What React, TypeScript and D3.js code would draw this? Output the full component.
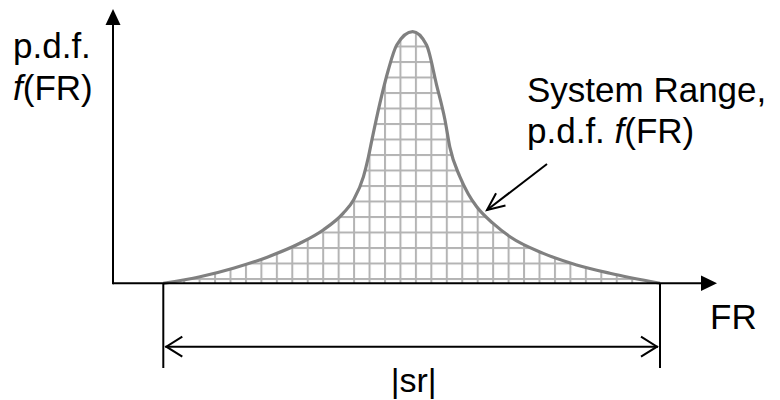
import React from "react";
import * as d3 from "d3";

// Curve samples (FR in % of system range, p.d.f. normalized to peak)
const frValues = [0, 7.4, 14.1, 20.8, 27.5, 32.2, 36.2, 38.3, 40.3, 41.3, 42, 43.6, 45.3, 47, 50.2, 53, 55, 56.7, 57.7, 59.7, 61.4, 63.1, 66.4, 69.8, 76.5, 83.2, 89.9, 100];
const pdfValues = [0, 0.026, 0.06, 0.103, 0.159, 0.212, 0.278, 0.331, 0.424, 0.503, 0.57, 0.715, 0.848, 0.947, 1.0, 0.947, 0.79, 0.65, 0.54, 0.424, 0.355, 0.304, 0.238, 0.185, 0.119, 0.073, 0.04, 0];

const yAxisLabel = ["p.d.f.", "f(FR)"];
const xAxisLabel = "FR";
const annotationLines = ["System Range,", "p.d.f. f(FR)"];
const rangeLabel = "|sr|";

const W = 780;
const H = 400;
const FONT = "'Liberation Sans', Arial, Helvetica, sans-serif";

export default function App() {
  const x = d3.scaleLinear().domain([0, 100]).range([163.3, 660]);
  const y = d3.scaleLinear().domain([0, 1]).range([283.3, 31.7]);
  const pts: [number, number][] = frValues.map((f, i) => [f, pdfValues[i]]);

  const area = d3
    .area<[number, number]>()
    .x((d) => x(d[0]))
    .y0(y(0))
    .y1((d) => y(d[1]))
    .curve(d3.curveMonotoneX);
  const line = d3
    .line<[number, number]>()
    .x((d) => x(d[0]))
    .y((d) => y(d[1]))
    .curve(d3.curveMonotoneX);

  const originX = 113;
  const baseY = y(0);
  const xEnd = 717;
  const yTop = 9;
  const dimY = 346.7;
  const extBottom = 368;
  const x0 = x(0);
  const x1 = x(100);

  // annotation arrow
  const tip = [487, 210];
  const tail = [547, 164];
  const ang = Math.atan2(tail[1] - tip[1], tail[0] - tip[0]);
  const al = 19;
  const spread = 0.42;
  const a1 = [tip[0] + al * Math.cos(ang - spread), tip[1] + al * Math.sin(ang - spread)];
  const a2 = [tip[0] + al * Math.cos(ang + spread), tip[1] + al * Math.sin(ang + spread)];

  const gridStepX = 15.45;
  const gridStepY = 15.5;

  return (
    <svg
      width={W}
      height={H}
      style={{ position: "absolute", left: 0, top: 0, background: "#fff" }}
      fontFamily={FONT}
    >
      <defs>
        <pattern
          id="grid"
          patternUnits="userSpaceOnUse"
          width={gridStepX}
          height={gridStepY}
          x={384}
          y={278}
        >
          <rect x={0} y={0} width={gridStepX} height={gridStepY} fill="#fff" />
          <rect x={0} y={0} width={2} height={gridStepY} fill="#b4b4b4" />
          <rect x={0} y={0} width={gridStepX} height={2} fill="#b4b4b4" />
        </pattern>
      </defs>
      <rect x={0} y={0} width={W} height={H} fill="#fff" />

      {/* filled area with grid */}
      <path d={area(pts) || ""} fill="url(#grid)" />
      <path d={line(pts) || ""} fill="none" stroke="#808080" strokeWidth={3.2} strokeLinejoin="round" />

      {/* axes */}
      <line x1={originX} y1={baseY} x2={xEnd - 14} y2={baseY} stroke="#000" strokeWidth={2} />
      <polygon points={`${xEnd},${baseY} ${xEnd - 16},${baseY - 7.8} ${xEnd - 16},${baseY + 7.8}`} fill="#000" />
      <line x1={originX} y1={baseY + 1} x2={originX} y2={yTop + 14} stroke="#000" strokeWidth={2} />
      <polygon points={`${originX},${yTop} ${originX - 7.5},${yTop + 16} ${originX + 7.5},${yTop + 16}`} fill="#000" />

      {/* dimension lines */}
      <line x1={x0} y1={baseY} x2={x0} y2={extBottom} stroke="#000" strokeWidth={2} />
      <line x1={x1} y1={baseY} x2={x1} y2={extBottom} stroke="#000" strokeWidth={2} />
      <line x1={x0 + 2} y1={dimY} x2={x1 - 2} y2={dimY} stroke="#000" strokeWidth={2} />
      <polyline
        points={`${x0 + 19},${dimY - 10} ${x0 + 3},${dimY} ${x0 + 19},${dimY + 10}`}
        fill="none"
        stroke="#000"
        strokeWidth={2}
      />
      <polyline
        points={`${x1 - 19},${dimY - 10} ${x1 - 3},${dimY} ${x1 - 19},${dimY + 10}`}
        fill="none"
        stroke="#000"
        strokeWidth={2}
      />

      {/* annotation arrow */}
      <line x1={tail[0]} y1={tail[1]} x2={tip[0]} y2={tip[1]} stroke="#000" strokeWidth={2} />
      <polyline
        points={`${a1[0]},${a1[1]} ${tip[0]},${tip[1]} ${a2[0]},${a2[1]}`}
        fill="none"
        stroke="#000"
        strokeWidth={2}
      />

      {/* texts */}
      <text x={13} y={58} fontSize={35} fill="#000">
        {yAxisLabel[0]}
      </text>
      <text x={13} y={100} fontSize={35} fill="#000">
        <tspan fontStyle="italic">f</tspan>
        {yAxisLabel[1].slice(1)}
      </text>
      <text x={710} y={329} fontSize={35} fill="#000">
        {xAxisLabel}
      </text>
      <text x={527} y={102} fontSize={35} fill="#000">
        {annotationLines[0]}
      </text>
      <text x={527} y={143} fontSize={35} fill="#000">
        {annotationLines[1].slice(0, 7)}
        <tspan fontStyle="italic">f</tspan>
        {annotationLines[1].slice(8)}
      </text>
      <text x={(x0 + x1) / 2 + 2} y={392} fontSize={34} fill="#000" textAnchor="middle">
        {rangeLabel}
      </text>
    </svg>
  );
}
